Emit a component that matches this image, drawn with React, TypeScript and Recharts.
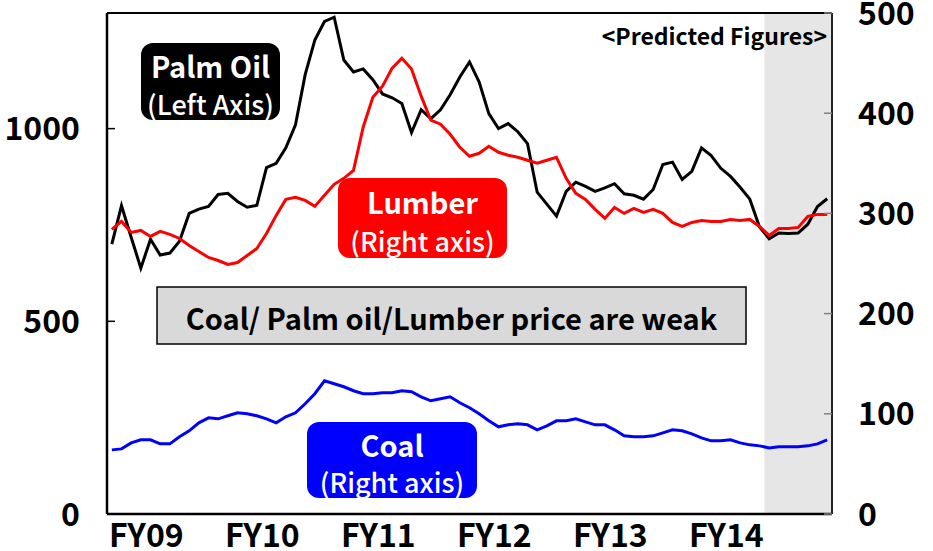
import { Line, LineChart, ReferenceArea, ReferenceLine, XAxis, YAxis } from "recharts";

// monthly, FY09 (Apr 2009) onwards; last months are predicted
const fyLabels = ["FY09", "FY10", "FY11", "FY12", "FY13", "FY14"];
const fyStartIdx = [0, 12, 24, 36, 48, 60];

const palmOil = [
  700, 800, 718, 638, 713, 672, 677, 708, 780, 791,
  798, 829, 832, 811, 796, 801, 899, 910, 950, 1010,
  1140, 1230, 1278, 1289, 1178, 1147, 1155, 1127, 1090, 1080,
  1065, 990, 1049, 1026, 1049, 1088, 1134, 1173, 1121, 1039,
  1000, 1013, 992, 961, 835, 804, 773, 837, 861, 850,
  837, 846, 857, 831, 827, 817, 842, 907, 913, 868,
  889, 950, 930, 897, 876, 848, 817, 745, 714, 729,
  728, 729, 752, 798, 818
];

const lumber = [
  284, 292, 281, 283, 277, 282, 279, 275, 268, 262,
  256, 253, 249, 251, 258, 265, 280, 298, 314, 316,
  313, 307, 318, 329, 335, 343, 386, 416, 427, 445,
  455, 444, 417, 393, 389, 379, 366, 357, 360, 367,
  361, 358, 356, 353, 350, 353, 356, 335, 320, 314,
  304, 295, 306, 300, 305, 301, 304, 300, 291, 287,
  291, 293, 292, 292, 294, 293, 294, 287, 278, 285,
  285, 286, 297, 299, 299
];

const coal = [
  64, 65, 71, 74, 74, 70, 70, 77, 83, 91,
  96, 95, 98, 101, 100, 98, 95, 91, 97, 101,
  110, 120, 133, 130, 127, 123, 120, 120, 121, 121,
  123, 122, 117, 113, 115, 117, 111, 106, 100, 93,
  87, 89, 90, 89, 84, 88, 93, 93, 95, 92,
  89, 89, 84, 78, 77, 77, 78, 81, 84, 83,
  80, 76, 73, 73, 74, 71, 69, 68, 66, 67,
  67, 67, 68, 70, 74
];

const leftTicks = [0, 500, 1000];
const rightTicks = [0, 100, 200, 300, 400, 500];
const predictedFromIdx = 68;

const data = palmOil.map((v, i) => ({ idx: i, palm: v, lumber: lumber[i], coal: coal[i] }));
const n = data.length;

const W = 933;
const H = 551;
const PLOT_L = 107;
const PLOT_R = 832;
const FONT = '"Noto Sans CJK JP", "Noto Sans", sans-serif';

const LeftTick = (props: any) => {
  const { y, payload } = props;
  return (
    <g>
      <line x1={PLOT_L} x2={PLOT_L + 8} y1={y} y2={y} stroke="#000" strokeWidth={1.5} />
      <text x={80} y={y} dy="0.36em" textAnchor="end" fontSize={32} fontWeight={700} fill="#000" fontFamily={FONT}>
        {payload.value}
      </text>
    </g>
  );
};

const RightTick = (props: any) => {
  const { y, payload } = props;
  return (
    <g>
      <line x1={PLOT_R - 8} x2={PLOT_R} y1={y} y2={y} stroke="#808080" strokeWidth={1.5} />
      <text x={858} y={y} dy="0.36em" textAnchor="start" fontSize={32} fontWeight={700} fill="#000" fontFamily={FONT}>
        {payload.value}
      </text>
    </g>
  );
};

const XTick = (props: any) => {
  const { x, payload, index } = props;
  return (
    <text x={x + 2} y={547} textAnchor="start" fontSize={32} fontWeight={700} fill="#000" fontFamily={FONT}>
      {fyLabels[index] ?? payload.value}
    </text>
  );
};

function Label2({ x, y, w, h, fill, line1, line2 }: any) {
  const cx = x + w / 2;
  return (
    <g>
      <rect x={x} y={y} width={w} height={h} rx={12} fill={fill} />
      <text x={cx} y={y + h * 0.29} dominantBaseline="central" textAnchor="middle" fontSize={29} fontWeight={700} fill="#fff">
        {line1}
      </text>
      <text x={cx} y={y + h * 0.78} dominantBaseline="central" textAnchor="middle" fontSize={27} fontWeight={500} fill="#fff">
        {line2}
      </text>
    </g>
  );
}

export default function App() {
  return (
    <div style={{ position: "absolute", left: 0, top: 0, width: W, height: H, background: "#fff" }}>
      <LineChart width={W} height={H} data={data} margin={{ top: 13, right: 0, bottom: 0, left: 0 }}>
        <ReferenceArea
          yAxisId="right"
          x1={predictedFromIdx - 0.5}
          x2={n - 0.5}
          y1={0}
          y2={500}
          fill="#e6e6e6"
          fillOpacity={1}
          stroke="none"
        />
        <XAxis
          dataKey="idx"
          type="number"
          domain={[-0.5, n - 0.5]}
          ticks={fyStartIdx.map((i) => i - 0.5)}
          height={37}
          tickLine={false}
          axisLine={{ stroke: "#000", strokeWidth: 2.5 }}
          tick={<XTick />}
          interval={0}
        />
        <YAxis
          yAxisId="left"
          orientation="left"
          width={PLOT_L}
          domain={[0, 1300]}
          ticks={leftTicks}
          tickLine={false}
          axisLine={{ stroke: "#000", strokeWidth: 2.5 }}
          tick={<LeftTick />}
          interval={0}
        />
        <YAxis
          yAxisId="right"
          orientation="right"
          width={W - PLOT_R}
          domain={[0, 500]}
          ticks={rightTicks}
          tickLine={false}
          axisLine={{ stroke: "#222", strokeWidth: 2 }}
          tick={<RightTick />}
          interval={0}
        />
        <ReferenceLine yAxisId="right" y={500} stroke="#000" strokeWidth={2} />
        <Line yAxisId="left" dataKey="palm" stroke="#000" strokeWidth={3} dot={false} type="linear" isAnimationActive={false} />
        <Line yAxisId="right" dataKey="lumber" stroke="#ff0000" strokeWidth={3} dot={false} type="linear" isAnimationActive={false} />
        <Line yAxisId="right" dataKey="coal" stroke="#0000ff" strokeWidth={3} dot={false} type="linear" isAnimationActive={false} />
      </LineChart>
      <svg width={W} height={H} style={{ position: "absolute", left: 0, top: 0, pointerEvents: "none" }} fontFamily={FONT}>
        <text x={827} y={35} dominantBaseline="central" textAnchor="end" fontSize={23} fontWeight={700} fill="#000">
          {"<Predicted Figures>"}
        </text>
        <Label2 x={141} y={43} w={139} h={77} fill="#000" line1="Palm Oil" line2="(Left Axis)" />
        <Label2 x={338} y={178} w={169} h={80} fill="#ff0000" line1="Lumber" line2="(Right axis)" />
        <Label2 x={307} y={422} w={170} h={76} fill="#0000ff" line1="Coal" line2="(Right axis)" />
        <rect x={157} y={287} width={589} height={57} fill="#d9d9d9" stroke="#000" strokeWidth={1.5} />
        <text x={451.5} y={317} dominantBaseline="central" textAnchor="middle" fontSize={29} fontWeight={700} fill="#000">
          Coal/ Palm oil/Lumber price are weak
        </text>
      </svg>
    </div>
  );
}
